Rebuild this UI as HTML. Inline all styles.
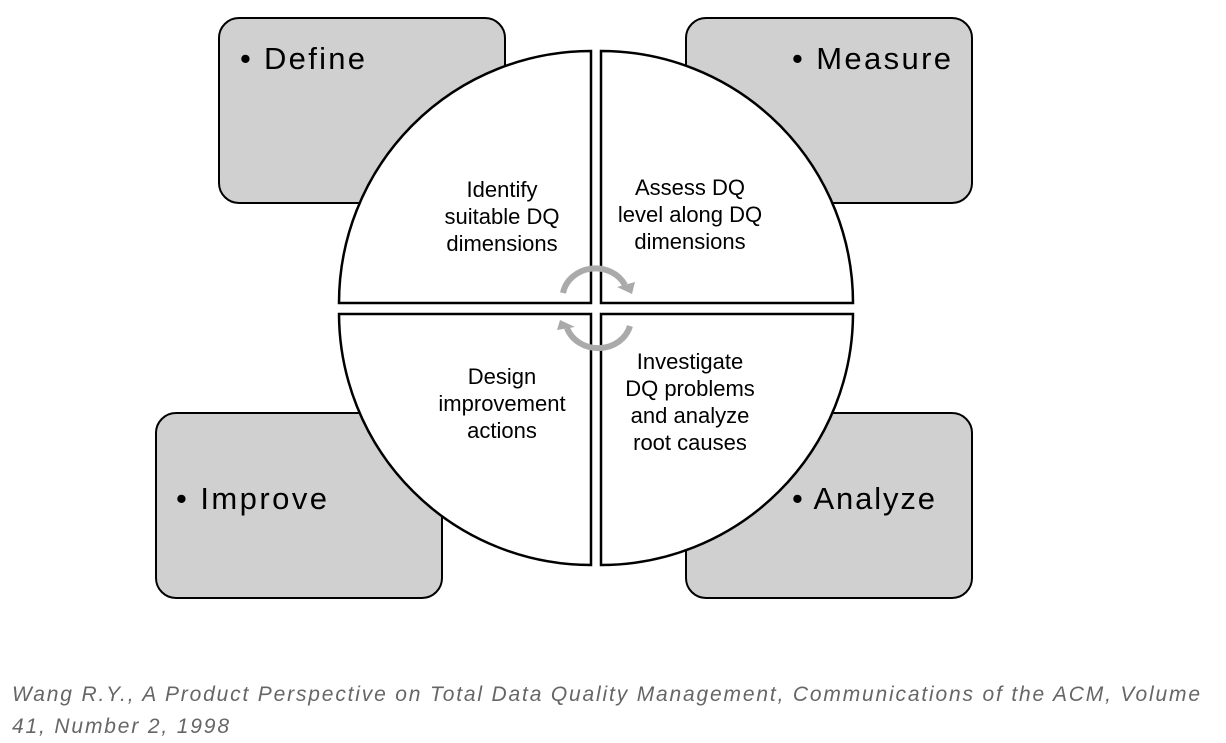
<!DOCTYPE html>
<html><head><style>
body{margin:0;background:#fff;width:1226px;height:743px;overflow:hidden}
svg{display:block}
.t{font-family:"Liberation Sans",sans-serif;}
</style></head><body>
<svg width="1226" height="743" viewBox="0 0 1226 743">
<g fill="#d0d0d0" stroke="#000" stroke-width="2">
<rect x="219" y="18" width="286" height="185" rx="20"/>
<rect x="686" y="18" width="286" height="185" rx="20"/>
<rect x="156" y="413" width="286" height="185" rx="20"/>
<rect x="686" y="413" width="286" height="185" rx="20"/>
</g>
<g class="t" font-size="31" fill="#000">
<text x="240" y="69" textLength="125" lengthAdjust="spacing">• Define</text>
<text x="792" y="69" textLength="159" lengthAdjust="spacing">• Measure</text>
<text x="176" y="509" textLength="151" lengthAdjust="spacing">• Improve</text>
<text x="792" y="509" textLength="143" lengthAdjust="spacing">• Analyze</text>
</g>
<g fill="#fff" stroke="#000" stroke-width="2.5">
<path d="M591 303 L339 303 A252 252 0 0 1 591 51 Z"/>
<path d="M601 303 L601 51 A252 252 0 0 1 853 303 Z"/>
<path d="M591 314 L591 565 A252 252 0 0 1 339 314 Z"/>
<path d="M601 314 L853 314 A252 252 0 0 1 601 565 Z"/>
</g>
<g class="t" font-size="22" fill="#000" text-anchor="middle">
<text x="502" y="197">Identify</text>
<text x="502" y="224">suitable DQ</text>
<text x="502" y="251">dimensions</text>
<text x="690" y="195">Assess DQ</text>
<text x="690" y="222">level along DQ</text>
<text x="690" y="249">dimensions</text>
<text x="502" y="384">Design</text>
<text x="502" y="411">improvement</text>
<text x="502" y="438">actions</text>
<text x="690" y="369">Investigate</text>
<text x="690" y="396">DQ problems</text>
<text x="690" y="423">and analyze</text>
<text x="690" y="450">root causes</text>
</g>
<g fill="none" stroke="#aaa" stroke-width="6">
<path d="M563 293 A33 30 0 0 1 625 285"/>
<path d="M630 326 A33 30 0 0 1 567 328"/>
</g>
<g fill="#aaa">
<polygon points="617,287 635,282 632,294"/>
<polygon points="575,327 557,330 560,320"/>
</g>
<g class="t" font-size="21" font-style="italic" fill="#666">
<text x="12" y="701" textLength="1188" lengthAdjust="spacing">Wang R.Y., A Product Perspective on Total Data Quality Management, Communications of the ACM, Volume</text>
<text x="12" y="733" textLength="217" lengthAdjust="spacing">41, Number 2, 1998</text>
</g>
</svg>
</body></html>
